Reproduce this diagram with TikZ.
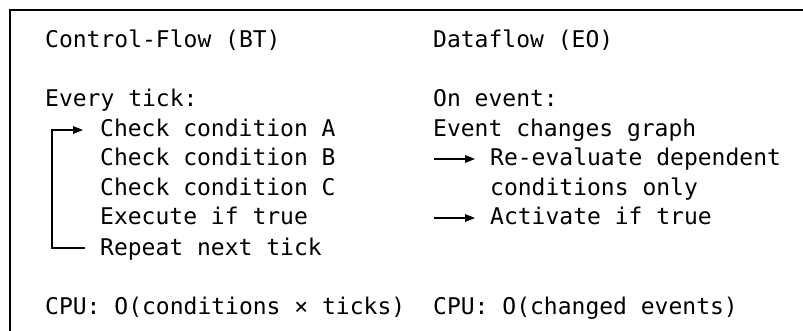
\documentclass[tikz,border=0pt]{standalone}
\usepackage{fontspec}
\newfontfamily\monofam{DejaVu Sans Mono}
\usetikzlibrary{arrows.meta}
\begin{document}
\begin{tikzpicture}[x=1pt,y=-1pt,
  txt/.style={anchor=base west, inner sep=0pt, text height=18pt, text depth=4pt,
    font=\monofam\fontsize{23}{23}\selectfont},
  ln/.style={line width=1.5pt},
  arr/.style={ln, -{Triangle[length=10pt,width=7.5pt]}},
  border/.style={line width=2pt}]
\useasboundingbox (0,0) rectangle (803,331);
% frame (top and left edges visible)
\coordinate (bl) at (10,331);
\coordinate (tl) at (10,10);
\coordinate (tr) at (803,10);
\draw[border] (bl) -- (tl) -- (tr);
% left column
\node[txt] (ctl)   at (45,48)   {Control-Flow (BT)};
\node[txt] (every) at (45,107)  {Every tick:};
\node[txt] (ca)    at (100,137) {Check condition A};
\node[txt] (cb)    at (100,166) {Check condition B};
\node[txt] (cc)    at (100,196) {Check condition C};
\node[txt] (ex)    at (100,225) {Execute if true};
\node[txt] (rep)   at (100,255) {Repeat next tick};
\node[txt] (cpu1)  at (45,314)  {CPU: O(conditions × ticks)};
% right column
\node[txt] (df)    at (433,48)  {Dataflow (EO)};
\node[txt] (onev)  at (433,107) {On event:};
\node[txt] (ecg)   at (433,137) {Event changes graph};
\node[txt] (reev)  at (490,166) {Re-evaluate dependent};
\node[txt] (conly) at (490,196) {conditions only};
\node[txt] (act)   at (490,225) {Activate if true};
\node[txt] (cpu2)  at (433,314) {CPU: O(changed events)};
% loop arrow
\draw[arr] ([xshift=-15pt]rep.west) -- ++(-33,0) |- ([xshift=-17pt]ca.west);
% right arrows
\draw[arr] ([xshift=-56pt]reev.west) -- ([xshift=-15pt]reev.west);
\draw[arr] ([xshift=-56pt]act.west) -- ([xshift=-15pt]act.west);
\end{tikzpicture}
\end{document}
